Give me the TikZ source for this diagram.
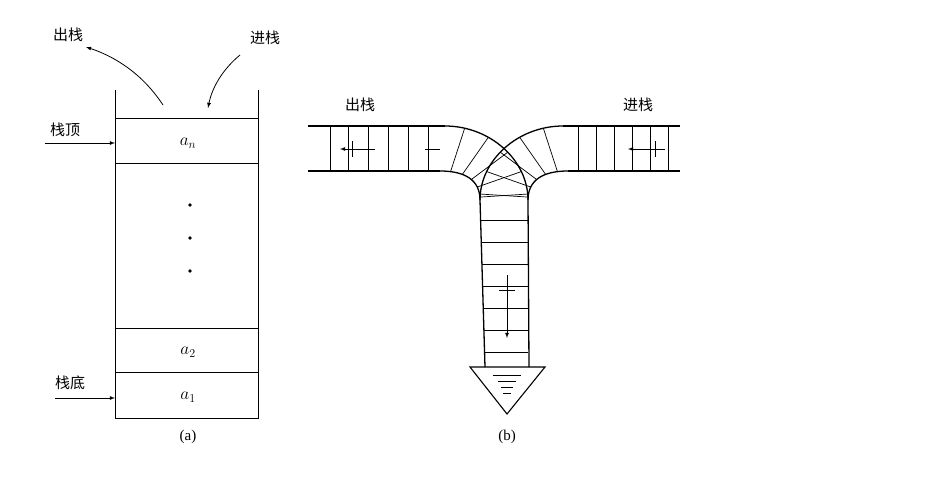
\documentclass[tikz,border=0pt]{standalone}
\usepackage{fontspec}
\newfontfamily\cjk{Noto Sans CJK SC}
\setmainfont{Liberation Serif}
\begin{document}
\begin{tikzpicture}[x=1pt,y=-1pt,
  rail/.style={line width=1.3pt},
  tie/.style={line width=0.7pt},
  lbl/.style={font=\cjk\fontsize{15}{15}\selectfont},
  mth/.style={font=\fontsize{17}{17}\selectfont},
  captxt/.style={font=\fontsize{15}{15}\selectfont},
  box/.style={line width=0.9pt}]
\useasboundingbox (0,0) rectangle (926,484);
% (a)
\draw[box] (115,90) -- (115,418) -- (258,418) -- (258,90);
\foreach \y in {118,163,328,372} \draw[box] (115,\y) -- (258,\y);
\node[mth] (an) at (188,143) {$a_n$};
\node[mth] (a2) at (188,352) {$a_2$};
\node[mth] (a1) at (188,397) {$a_1$};
\foreach \y in {205,238,271} \fill (190,\y) circle (1.8pt);
\node[captxt] (capa) at (188,437) {(a)};
\node[lbl] (out) at (68,35) {出栈};
\node[lbl] (in) at (265,38) {进栈};
\node[lbl] (top) at (65,130) {栈顶};
\node[lbl] (bot) at (70,383) {栈底};
\coordinate (o1) at (163,105); \coordinate (o2) at (86,47);
\draw[-latex,line width=0.8pt] (o1) .. controls (140,70) and (110,55) .. (o2);
\coordinate (i1) at (240,55); \coordinate (i2) at (208,108);
\draw[-latex,line width=0.8pt] (i1) .. controls (222,70) and (212,88) .. (i2);
\coordinate (t1) at (45,143); \coordinate (t2) at (115,143);
\draw[-latex,line width=0.8pt] (t1) -- (t2);
\coordinate (b1) at (55,398); \coordinate (b2) at (115,398);
\draw[-latex,line width=0.8pt] (b1) -- (b2);
% (b)
\node[lbl] (bout) at (360,105) {出栈};
\node[lbl] (bin) at (638,105) {进栈};
\node[captxt] (capb) at (507,437) {(b)};
% straight rails
\draw[rail] (308,126) -- (445,126);
\draw[rail] (308,171) -- (440,171);
\draw[rail] (563,126) -- (680,126);
\draw[rail] (568,171) -- (680,171);
\foreach \x in {330,348,368,388,408,428} \draw[tie] (\x,126) -- (\x,171);
\foreach \x in {578,596,614,632,650,668} \draw[tie] (\x,126) -- (\x,171);
% curved rails
\draw[rail] (445,126) .. controls (490,126) and (528,160) .. (528,200);
\draw[rail] (440,171) .. controls (465,171) and (480,180) .. (480,200);
\draw[rail] (563,126) .. controls (518,126) and (480,160) .. (480,200);
\draw[rail] (568,171) .. controls (543,171) and (528,180) .. (528,200);
\foreach \t in {0.15,0.35,0.55,0.75,0.95}{
  \path (445,126) .. controls (490,126) and (528,160) .. (528,200) coordinate[pos=\t] (p);
  \path (440,171) .. controls (465,171) and (480,180) .. (480,200) coordinate[pos=\t] (q);
  \draw[tie] (p) -- (q);
  \path (563,126) .. controls (518,126) and (480,160) .. (480,200) coordinate[pos=\t] (p);
  \path (568,171) .. controls (543,171) and (528,180) .. (528,200) coordinate[pos=\t] (q);
  \draw[tie] (p) -- (q);
}
% vertical track
\draw[rail] (480,200) -- (485,367);
\draw[rail] (528,200) -- (529,367);
\foreach \y in {220,242,264,286,308,330,352} \draw[tie] ({480+5*(\y-200)/167},\y) -- (528,\y);
% triangle
\draw[line width=1.1pt] (470,367) -- (545,367) -- (507,414) -- cycle;
\foreach \y/\w in {375/14,381/9,387/6,393/4} \draw[line width=0.6pt] ({507-\w},\y) -- ({507+\w},\y);
% direction arrows
\draw[-latex,line width=0.8pt] (375,149) -- (340,149);
\draw[line width=0.8pt] (352,141) -- (352,157);
\draw[line width=0.8pt] (440,149) -- (425,149);
\draw[-latex,line width=0.8pt] (665,149) -- (628,149);
\draw[line width=0.8pt] (655,141) -- (655,157);
\draw[-latex,line width=0.8pt] (507,275) -- (507,338);
\draw[line width=0.8pt] (499,290) -- (515,290);
\end{tikzpicture}
\end{document}
